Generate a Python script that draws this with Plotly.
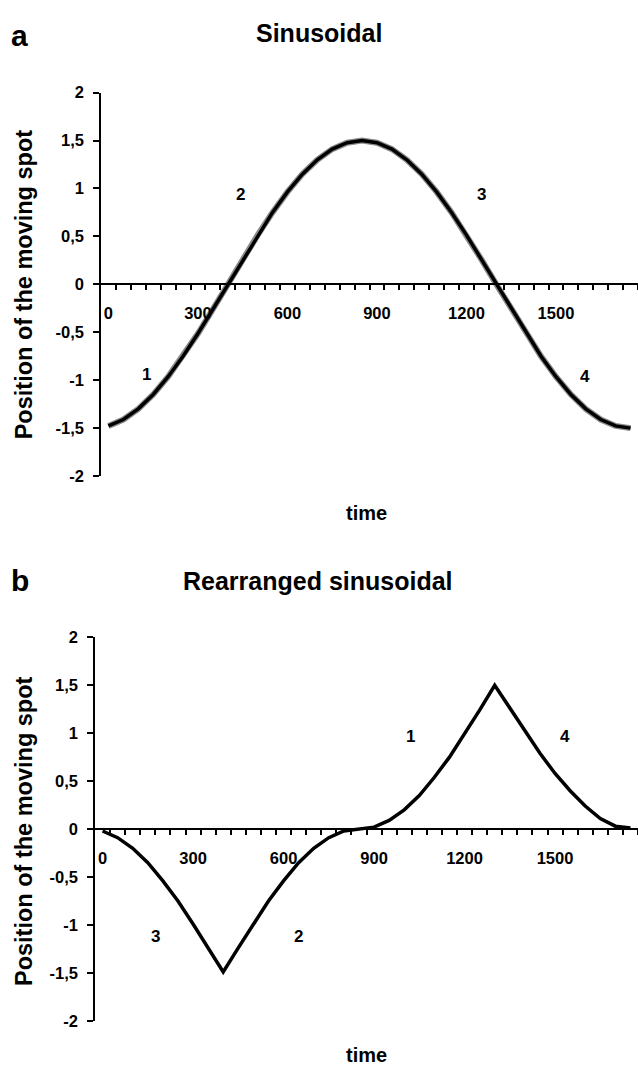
import plotly.graph_objects as go

# ---- data ----
time = [0, 50, 100, 150, 200, 250, 300, 350, 400, 450, 500, 550, 600, 650, 700, 750, 800, 850,
        900, 950, 1000, 1050, 1100, 1150, 1200, 1250, 1300, 1350, 1400, 1450, 1500, 1550, 1600, 1650, 1700, 1750]

sinusoidal = [-1.477, -1.41, -1.299, -1.149, -0.964, -0.75, -0.513, -0.26, 0.0, 0.26, 0.513, 0.75,
              0.964, 1.149, 1.299, 1.41, 1.477, 1.5, 1.477, 1.41, 1.299, 1.149, 0.964, 0.75,
              0.513, 0.26, 0.0, -0.26, -0.513, -0.75, -0.964, -1.149, -1.299, -1.41, -1.477, -1.5]

rearranged = [-0.02, -0.09, -0.2, -0.35, -0.54, -0.75, -0.99, -1.24, -1.49, -1.24, -0.99, -0.75,
              -0.54, -0.35, -0.2, -0.09, -0.02, 0.0, 0.02, 0.09, 0.2, 0.35, 0.54, 0.75,
              0.99, 1.24, 1.5, 1.26, 1.02, 0.79, 0.58, 0.4, 0.24, 0.11, 0.03, 0.01]

x_label_vals = [0, 300, 600, 900, 1200, 1500]
x_minor_vals = [25 + 50 * i for i in range(36)]
y_tick_vals = [-2, -1.5, -1, -0.5, 0, 0.5, 1, 1.5, 2]
y_tick_text = ["-2", "-1,5", "-1", "-0,5", "0", "0,5", "1", "1,5", "2"]

labels_a = ["1", "2", "3", "4"]
labels_a_t = [126, 441, 1252, 1597]
labels_a_y = [-0.94, 0.94, 0.94, -0.96]
labels_b = ["3", "2", "1", "4"]
labels_b_t = [175, 650, 1020, 1533]
labels_b_y = [-1.12, -1.12, 0.965, 0.965]

W, H = 638, 1077
FONT = "Liberation Sans, Arial, sans-serif"


def px(x):
    return x / W


def py(y):
    return 1 - y / H


fig = go.Figure()
fig.add_trace(go.Scatter(x=time, y=sinusoidal, mode="lines", line=dict(color="#8a8a8a", width=6),
                         xaxis="x", yaxis="y", showlegend=False, hoverinfo="skip"))
fig.add_trace(go.Scatter(x=time, y=sinusoidal, mode="lines", line=dict(color="black", width=3.5),
                         xaxis="x", yaxis="y", showlegend=False))
fig.add_trace(go.Scatter(x=time, y=rearranged, mode="lines", line=dict(color="black", width=3.5),
                         xaxis="x2", yaxis="y2", showlegend=False))

# panel geometry (pixels)
a_left, a_top, a_bot = 101, 85, 475
b_left, b_top, b_bot = 95, 639, 1029


def xaxis_cfg(left, top, bot):
    return dict(
        domain=[px(left), 1.0], range=[-25, 1775], anchor="free",
        position=py((top + bot) / 2),
        showline=True, linecolor="black", linewidth=1.5,
        showgrid=False, zeroline=False,
        tickmode="array", tickvals=x_label_vals, ticktext=[str(v) for v in x_label_vals],
        ticks="", ticklabelstandoff=14,
        tickfont=dict(family=FONT, size=16.5, color="black", weight="bold"),
        minor=dict(tickmode="array", tickvals=x_minor_vals, ticks="outside", ticklen=5,
                   tickwidth=1.5, tickcolor="black", showgrid=False),
        fixedrange=True,
    )


def yaxis_cfg(top, bot, anchor):
    return dict(
        domain=[py(bot), py(top)], range=[-2, 2], anchor=anchor,
        showline=True, linecolor="black", linewidth=1.5,
        showgrid=False, zeroline=False,
        tickmode="array", tickvals=y_tick_vals, ticktext=y_tick_text,
        ticks="outside", ticklen=6, tickwidth=1.5, tickcolor="black",
        ticklabelstandoff=6,
        tickfont=dict(family=FONT, size=16.5, color="black", weight="bold"),
        fixedrange=True,
    )


fig.update_layout(
    width=W, height=H, margin=dict(l=0, r=0, t=0, b=0),
    paper_bgcolor="white", plot_bgcolor="white",
    xaxis=xaxis_cfg(a_left, a_top, a_bot),
    yaxis=yaxis_cfg(a_top, a_bot, "x"),
    xaxis2=xaxis_cfg(b_left, b_top, b_bot),
    yaxis2=yaxis_cfg(b_top, b_bot, "x2"),
)

ann = []


def txt(text, x, y, size, angle=0):
    ann.append(dict(text=text, x=px(x), y=py(y), xref="paper", yref="paper",
                    showarrow=False, textangle=angle, xanchor="center", yanchor="middle",
                    font=dict(family=FONT, size=size, color="black", weight="bold")))


txt("a", 19, 27, 30)
txt("Sinusoidal", 319, 24, 25)
txt("time", 366, 513, 20)
txt("Position of the moving spot", 24, 280, 23.5, -90)
txt("b", 20, 581, 30)
txt("Rearranged sinusoidal", 318, 582, 25)
txt("time", 366, 1064, 20)
txt("Position of the moving spot", 24, 836, 23.5, -90)

for t, xv, yv in zip(labels_a, labels_a_t, labels_a_y):
    ann.append(dict(text=t, x=xv, y=yv, xref="x", yref="y", showarrow=False,
                    font=dict(family=FONT, size=17, color="black", weight="bold")))
for t, xv, yv in zip(labels_b, labels_b_t, labels_b_y):
    ann.append(dict(text=t, x=xv, y=yv, xref="x2", yref="y2", showarrow=False,
                    font=dict(family=FONT, size=17, color="black", weight="bold")))

fig.update_layout(annotations=ann)
fig.write_html("out.html")
